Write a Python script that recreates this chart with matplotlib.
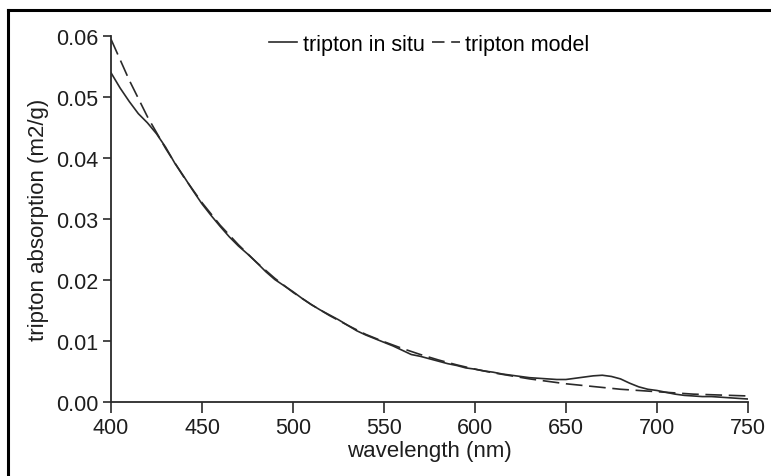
import matplotlib
matplotlib.use('Agg')
import matplotlib.pyplot as plt
from matplotlib.lines import Line2D

plt.rcParams['font.family'] = ['Liberation Sans', 'DejaVu Sans']

# tripton model (every 10 nm)
wl_model = list(range(400, 751, 10))
a_model = [0.0595, 0.0528, 0.0468, 0.0416, 0.0369, 0.0327, 0.0290, 0.0258,
           0.0229, 0.0203, 0.0180, 0.0160, 0.0142, 0.0126, 0.0111, 0.0099,
           0.0088, 0.0078, 0.0069, 0.0061, 0.0054, 0.0048, 0.0043, 0.0038,
           0.0034, 0.0030, 0.0027, 0.0024, 0.0021, 0.0019, 0.0017, 0.0015,
           0.0013, 0.0012, 0.0011, 0.0010]

# tripton in situ (every 5 nm)
wl_situ = list(range(400, 751, 5))
a_situ = [0.0540, 0.0515, 0.0493, 0.0473, 0.0458, 0.0440, 0.0418, 0.0392,
          0.0370, 0.0347, 0.0325, 0.0306, 0.0288, 0.0271, 0.0256, 0.0243,
          0.0229, 0.0214, 0.0201, 0.0191, 0.0181, 0.0170, 0.0160, 0.0151,
          0.0143, 0.0135, 0.0126, 0.0117, 0.0110, 0.0104, 0.0098, 0.0092,
          0.0085, 0.0078, 0.0075, 0.0071, 0.0067, 0.0063, 0.0060, 0.0056,
          0.0054, 0.0051, 0.0049, 0.0046, 0.0044, 0.0042, 0.0040, 0.0039,
          0.0038, 0.0037, 0.0037, 0.0039, 0.0041, 0.0043, 0.0044, 0.0042,
          0.0038, 0.0031, 0.0025, 0.0021, 0.0019, 0.0016, 0.0013, 0.0011,
          0.0010, 0.0009, 0.0009, 0.0008, 0.0007, 0.0006, 0.0005]

xticks = [400, 450, 500, 550, 600, 650, 700, 750]
yticks = [0.00, 0.01, 0.02, 0.03, 0.04, 0.05, 0.06]

col = '#2a2a2a'
txt = '#1e1e1e'
fig = plt.figure(figsize=(7.71, 4.77), dpi=100)
ax = fig.add_axes([0.144, 0.155, 0.826, 0.767])

ax.plot(wl_situ, a_situ, color=col, lw=1.2, label='tripton in situ')
ax.plot(wl_model, a_model, color=col, lw=1.2, ls=(0, (10, 4)), label='tripton model')

ax.set_xlim(400, 750)
ax.set_ylim(0, 0.06)
ax.set_xticks(xticks)
ax.set_yticks(yticks)
ax.set_yticklabels([f'{v:.2f}' for v in yticks])
for s in ['top', 'right']:
    ax.spines[s].set_visible(False)
for s in ['left', 'bottom']:
    ax.spines[s].set_color(col)
    ax.spines[s].set_linewidth(1.3)
ax.tick_params(axis='y', direction='out', length=6, width=1.2, color=col,
               labelsize=15.5, pad=3, labelcolor=txt)
ax.tick_params(axis='x', direction='out', length=8, width=1.2, color=col,
               labelsize=15.5, pad=3, labelcolor=txt)
ax.set_xlabel('wavelength (nm)', fontsize=16, color=txt, labelpad=1)
ax.set_ylabel('tripton absorption (m2/g)', fontsize=16, color=txt, labelpad=5)

leg = ax.legend(loc='upper center', bbox_to_anchor=(0.5, 1.06), ncol=2, frameon=False,
                fontsize=15.5, handlelength=1.3, handletextpad=0.25, columnspacing=0.35)
leg.get_lines()[1].set_linestyle((0, (7.5, 4)))

# outer frame (top and left visible)
fig.add_artist(Line2D([0.011, 1.0], [0.976, 0.976], color='black', lw=2.2,
                      transform=fig.transFigure))
fig.add_artist(Line2D([0.011, 0.011], [0.0, 0.976], color='black', lw=2.2,
                      transform=fig.transFigure))

fig.savefig('out.png', dpi=100)
